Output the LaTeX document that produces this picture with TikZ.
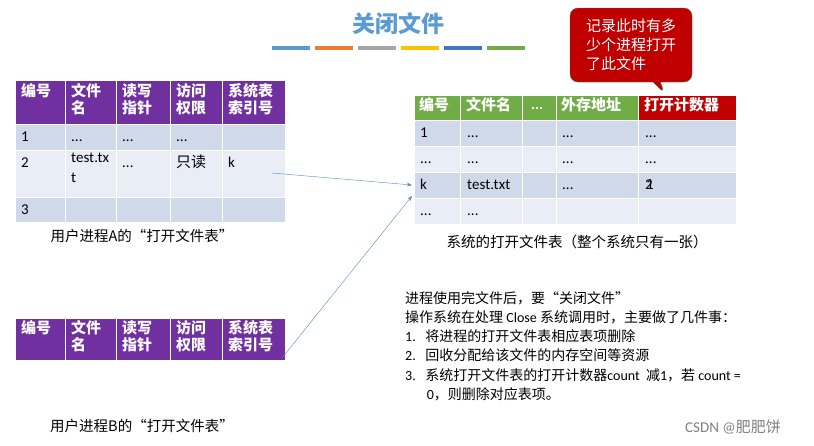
\documentclass[tikz,border=0pt]{standalone}
\usepackage{fontspec}
\setmainfont{Carlito}
\newfontfamily\cjk{Noto Sans CJK SC}
\usetikzlibrary{arrows.meta,shapes.callouts}
\definecolor{purp}{HTML}{7030A0}
\definecolor{grn}{HTML}{70AD47}
\definecolor{rdk}{HTML}{C00000}
\definecolor{ra}{HTML}{CFD9EA}
\definecolor{rb}{HTML}{E9EEF6}
\definecolor{ttl}{HTML}{5B9BD5}
\tikzset{cell/.style={draw=white,line width=1pt},
 ht/.style={font=\fontsize{15}{17}\selectfont\cjk\bfseries,text=white,anchor=north west,align=left,inner sep=0pt},
 bt/.style={font=\fontsize{15}{20}\selectfont,anchor=north west,align=left,inner sep=0pt,execute at begin node=\strut},
 captext/.style={font=\fontsize{14.5}{16}\selectfont\cjk},
 conn/.style={draw=ttl!90!black,thin,-{Stealth[length=5pt]}}}
\begin{document}
\begin{tikzpicture}[x=1pt,y=-1pt]
\useasboundingbox (0,0) rectangle (814,445);
\node[text=ttl,font=\fontsize{23}{25}\selectfont\cjk\bfseries] (title) at (398,24) {关闭文件};
\foreach \c [count=\i] in {5B9BD5,ED7D31,A5A5A5,FFC000,4472C4,70AD47}{
 \definecolor{barc}{HTML}{\c}
 \fill[barc] (272+43*\i-43,46) rectangle +(38,4);}
% table A
\def\xs{{15,65,116,170,222,285}}
\foreach \i in {0,...,4}{\fill[purp,cell] (\xs[\i],80) rectangle (\xs[\i+1],124);}
\foreach \a/\b/\c in {124/150/ra,150/197/rb,197/222/ra}{\foreach \i in {0,...,4}{\fill[\c,cell] (\xs[\i],\a) rectangle (\xs[\i+1],\b);}}
\node[ht] (ah1) at (21,83) {编号};
\node[ht] (ah2) at (71,83) {文件\\名};
\node[ht] (ah3) at (122,83) {读写\\指针};
\node[ht] (ah4) at (176,83) {访问\\权限};
\node[ht] (ah5) at (228,83) {系统表\\索引号};
\node[bt] at (21,127) {1};\node[bt] at (71,127) {...};\node[bt] at (122,127) {...};\node[bt] at (176,127) {...};
\node[bt] at (21,153) {2};\node[bt] at (71,153) {test.tx\\t};\node[bt] at (122,153) {...};\node[bt] at (176,153) {\cjk 只读};
\node[bt] (ak) at (228,153) {k};
\node[bt] at (21,200) {3};
\node[captext] (capA) at (142,236) {用户进程A的“打开文件表”};
\coordinate (aout) at (272,173);
% table B
\foreach \i in {0,...,4}{\fill[purp,cell] (\xs[\i],318) rectangle (\xs[\i+1],360);}
\node[ht] at (21,320) {编号};
\node[ht] at (71,320) {文件\\名};
\node[ht] at (122,320) {读写\\指针};
\node[ht] at (176,320) {访问\\权限};
\node[ht] at (228,320) {系统表\\索引号};
\node[captext] (capB) at (142,426) {用户进程B的“打开文件表”};
\coordinate (bout) at (282,358);
% system table
\def\ys{{414,460,522,556,638,736}}
\foreach \i in {0,...,3}{\fill[grn,cell] (\ys[\i],95) rectangle (\ys[\i+1],120);}
\fill[rdk,cell] (638,95) rectangle (736,120);
\foreach \a/\b/\c in {120/146/ra,146/172/rb,172/198/ra,198/224/rb}{\foreach \i in {0,...,4}{\fill[\c,cell] (\ys[\i],\a) rectangle (\ys[\i+1],\b);}}
\node[ht] at (419,97) {编号};\node[ht] at (466,97) {文件名};\node[ht,font=\fontsize{15}{17}\selectfont\bfseries] at (531,97) {\strut...};\node[ht] at (561,97) {外存地址};\node[ht] at (644,97) {打开计数器};
\node[bt] at (420,123) {1};\node[bt] at (467,123) {...};\node[bt] at (562,123) {...};\node[bt] at (645,123) {...};
\node[bt] at (420,149) {...};\node[bt] at (467,149) {...};\node[bt] at (562,149) {...};\node[bt] at (645,149) {...};
\node[bt] (sk) at (420,175) {k};\node[bt] at (467,175) {test.txt};\node[bt] at (562,175) {...};\node[bt] at (645,175) {2};\node[bt] at (646,175) {1};
\node[bt] at (420,201) {...};\node[bt] at (467,201) {...};
\node[captext] (capS) at (577,242) {系统的打开文件表（整个系统只有一张）};
\coordinate (sin1) at (412,185);\coordinate (sin2) at (412,196);
\draw[conn] (aout) -- (sin1);
\draw[conn] (bout) -- (sin2);
% callout
\node[rectangle callout,rounded corners=8pt,fill=rdk,draw=grn!70!black,text=white,minimum width=122pt,minimum height=74pt,
 callout absolute pointer={(665,94)},align=left,font=\fontsize{15}{19}\selectfont\cjk] (call) at (631,45) {记录此时有多\\少个进程打开\\了此文件};
% text
\node[anchor=north west,align=left,inner sep=0pt,font=\fontsize{14}{19.3}\selectfont] (txt) at (405,291) {\cjk 进程使用完文件后，要“关闭文件”\\\cjk 操作系统在处理 \normalfont Close \cjk 系统调用时，主要做了几件事：\\1.\ \ \ \cjk 将进程的打开文件表相应表项删除\\2.\ \ \ \cjk 回收分配给该文件的内存空间等资源\\3.\ \ \ \cjk 系统打开文件表的打开计数器\normalfont count\ \ \cjk 减\normalfont 1\cjk ，若 \normalfont count =\\\hspace{1.55em}0\cjk ，则删除对应表项。};
\node[text=gray,font=\fontsize{15}{16}\selectfont] (wm) at (733,427) {CSDN @{\cjk 肥肥饼}};
\end{tikzpicture}
\end{document}
